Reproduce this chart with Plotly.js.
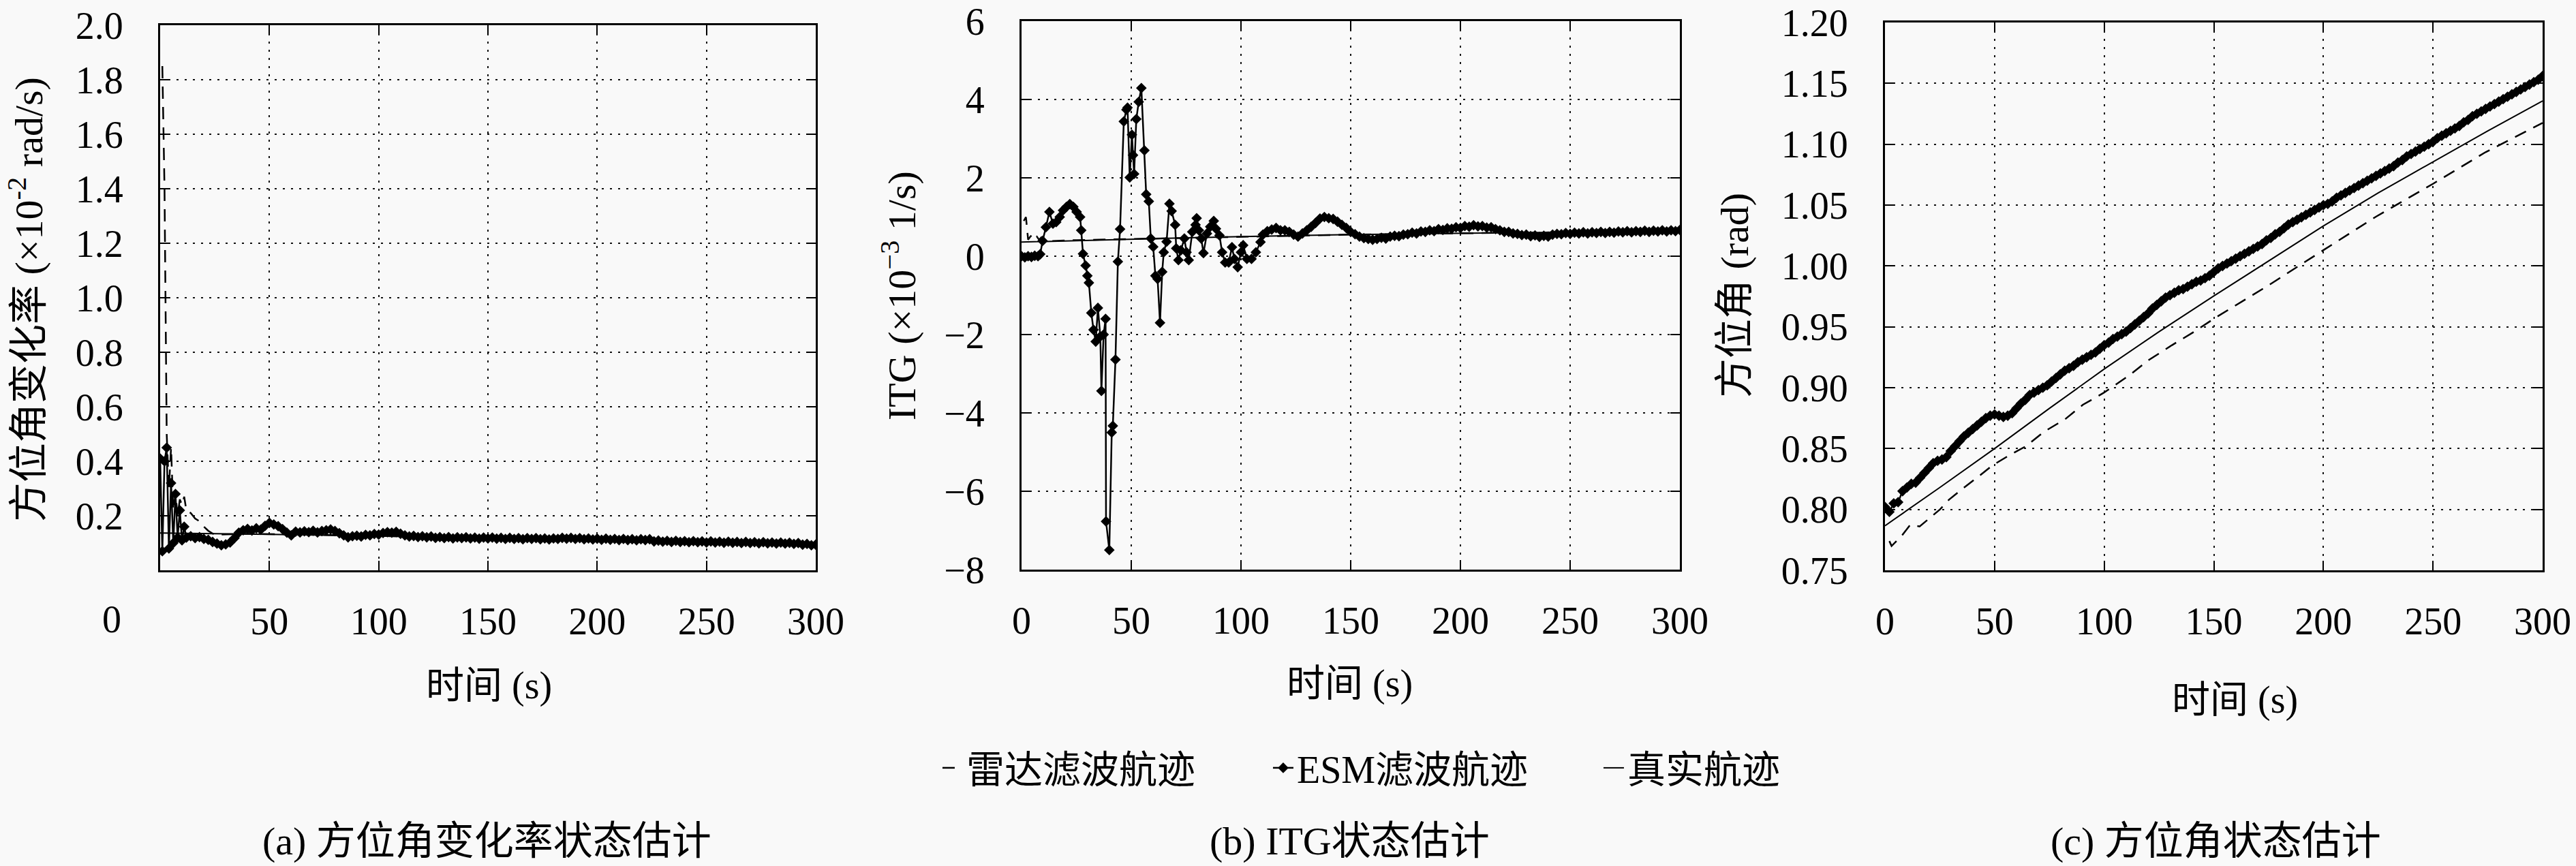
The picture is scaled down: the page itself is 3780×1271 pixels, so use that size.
<!DOCTYPE html>
<html>
<head>
<meta charset="utf-8">
<script src="https://cdn.plot.ly/plotly-3.1.2.min.js"></script>
<style>
  html, body { margin: 0; padding: 0; background: #f9f9f9; }
</style>
</head>
<body>
<div id="chart" style="width:3780px;height:1271px;"></div>
<script>
// ---- (a) bearing-rate estimate (x10^-2 rad/s) ----
const aEsmT = [0, 1, 2, 3, 4, 5, 6, 7, 8, 9, 10, 11, 12,
  14, 16, 18, 20, 22, 24, 26, 28, 30, 32, 34, 36, 38, 40, 42, 44, 46, 48, 50, 52, 54, 56, 58, 60,
  62, 64, 66, 68, 70, 72, 74, 76, 78, 80, 82, 84, 86, 88, 90, 92, 94, 96, 98, 100,
  102, 104, 106, 108, 110, 112, 114, 116, 118, 120, 122, 124, 126, 128, 130, 132, 134, 136, 138, 140,
  142, 144, 146, 148, 150, 152, 154, 156, 158, 160, 162, 164, 166, 168, 170, 172, 174, 176, 178, 180,
  182, 184, 186, 188, 190, 192, 194, 196, 198, 200, 202, 204, 206, 208, 210, 212, 214, 216, 218, 220,
  222, 224, 226, 228, 230, 232, 234, 236, 238, 240, 242, 244, 246, 248, 250, 252, 254, 256, 258, 260,
  262, 264, 266, 268, 270, 272, 274, 276, 278, 280, 282, 284, 286, 288, 290, 292, 294, 296, 298, 300];
const aEsm = [0.41, 0.07, 0.40, 0.45, 0.08, 0.32, 0.10, 0.28, 0.12, 0.22, 0.11, 0.16, 0.12,
  0.125, 0.118, 0.122, 0.115, 0.112, 0.104, 0.098, 0.092, 0.095, 0.102, 0.118, 0.138, 0.147, 0.152, 0.146, 0.154, 0.149, 0.163, 0.174, 0.168, 0.162, 0.151, 0.138, 0.128,
  0.142, 0.139, 0.143, 0.140, 0.145, 0.139, 0.144, 0.147, 0.150, 0.144, 0.136, 0.128, 0.121, 0.125, 0.127, 0.124, 0.130, 0.128, 0.133, 0.131,
  0.137, 0.140, 0.138, 0.141, 0.134, 0.128, 0.124, 0.126, 0.122, 0.125, 0.121, 0.124, 0.119, 0.122, 0.118, 0.122, 0.117, 0.121, 0.118, 0.121,
  0.117, 0.120, 0.116, 0.120, 0.117, 0.120, 0.116, 0.119, 0.115, 0.119, 0.115, 0.118, 0.114, 0.118, 0.115, 0.118, 0.114, 0.117, 0.113, 0.117,
  0.115, 0.119, 0.116, 0.119, 0.115, 0.118, 0.114, 0.117, 0.113, 0.116, 0.112, 0.116, 0.112, 0.115, 0.111, 0.115, 0.111, 0.114, 0.110, 0.114,
  0.111, 0.114, 0.106, 0.109, 0.105, 0.108, 0.104, 0.108, 0.104, 0.107, 0.103, 0.107, 0.103, 0.106, 0.102, 0.106, 0.102, 0.105, 0.101, 0.105,
  0.101, 0.104, 0.100, 0.104, 0.100, 0.103, 0.099, 0.103, 0.099, 0.102, 0.098, 0.102, 0.098, 0.101, 0.097, 0.100, 0.094, 0.097, 0.092, 0.094];
const aRadarT = [1, 2, 3, 4, 5, 6, 7, 8, 9, 10, 11, 12, 14, 16, 18, 20, 22, 25, 30, 40, 60, 80, 100, 150, 200, 250, 300];
const aRadar = [1.85, 1.40, 0.50, 0.30, 0.45, 0.22, 0.28, 0.20, 0.26, 0.24, 0.27, 0.22, 0.21, 0.19, 0.18, 0.16, 0.145, 0.13, 0.132, 0.134, 0.132, 0.129, 0.126, 0.118, 0.111, 0.104, 0.098];
const aTrueT = [0, 25, 50, 75, 100, 125, 150, 175, 200, 225, 250, 275, 300];
const aTrue = [0.137, 0.135, 0.132, 0.129, 0.126, 0.122, 0.118, 0.114, 0.111, 0.107, 0.104, 0.101, 0.098];

// ---- (b) ITG estimate (x10^-3 1/s) ----
const bEsmT = [0, 1.5, 3, 4.5, 6, 7.5, 8.5, 9.6, 11.1, 12.7, 14.3, 15.8, 17.4, 18.9, 20.5, 22, 23.6, 25.1, 26.7, 27.2, 28,
  29.2, 30, 30.7, 31.8, 32.8, 33.8, 34.8, 35.9, 36.4, 37.4, 38.3, 38.5, 40, 41.1, 41.6, 42.8, 43.9, 44.9, 46.6, 47.8,
  48.3, 49.3, 50.3, 50.8, 51.3, 52.3, 53.4, 54.6, 56, 56.8, 58, 58.9, 60, 61, 62, 63.1, 64.1, 64.8, 66.1, 67.4,
  68.4, 70, 70.5, 71.5, 72.6, 74.2, 75.2, 76.2, 77.8, 79.3, 79.8, 80.8, 81.9, 82.9, 84.5, 86, 87.6, 88.6, 90.2, 91.4,
  92.8, 94.4, 95.9, 97, 98.5, 100, 101, 102.7, 104.8, 106.8, 108.9,
  110, 112, 114, 116, 118, 120, 122, 124, 126, 128, 130, 132, 134, 136, 138, 140, 142, 144, 146, 148, 150,
  152, 154, 156, 158, 160, 162, 164, 166, 168, 170, 172, 174, 176, 178, 180, 182, 184, 186, 188, 190,
  192, 194, 196, 198, 200, 202, 204, 206, 208, 210, 212, 214, 216, 218, 220, 222, 224, 226, 228, 230,
  232, 234, 236, 238, 240, 242, 244, 246, 248, 250, 252, 254, 256, 258, 260, 262, 264, 266, 268, 270,
  272, 274, 276, 278, 280, 282, 284, 286, 288, 290, 292, 294, 296, 298, 300];
const bEsm = [0.0, -0.03, 0.0, -0.02, 0.01, 0.0, 0.05, 0.39, 0.74, 1.13, 0.83, 0.87, 1.0, 1.17, 1.26, 1.33, 1.26, 1.13, 1.0, 0.66, 0.06,
  -0.24, -0.5, -0.68, -1.45, -1.88, -2.18, -1.32, -2.05, -3.44, -2.0, -1.6, -6.77, -7.5, -4.5, -4.33, -2.64, -0.14, 0.69, 3.44, 3.74,
  3.79, 2.01, 3.1, 2.58, 2.1, 3.5, 3.94, 4.29, 2.7, 1.58, 1.4, 0.45, 0.24, -0.5, -0.58, -1.7, -0.4, 0.1, 0.37, 1.34,
  1.15, 0.8, 0.2, -0.1, 0.15, 0.45, 0.1, -0.1, 0.62, 0.8, 0.97, 0.66, 0.45, 0.08, 0.58, 0.75, 0.9, 0.7, 0.53, 0.1,
  -0.16, -0.16, 0.23, -0.07, -0.28, 0.1, 0.28, -0.07, -0.07, 0.1, 0.36,
  0.55, 0.64, 0.68, 0.72, 0.66, 0.66, 0.62, 0.55, 0.50, 0.58, 0.66, 0.75, 0.85, 0.96, 1.00, 0.97, 0.95, 0.88, 0.80, 0.72, 0.62,
  0.56, 0.50, 0.46, 0.44, 0.42, 0.44, 0.47, 0.45, 0.50, 0.52, 0.51, 0.55, 0.56, 0.60, 0.58, 0.63, 0.62, 0.66, 0.64, 0.69,
  0.67, 0.71, 0.70, 0.74, 0.72, 0.77, 0.75, 0.79, 0.76, 0.77, 0.73, 0.74, 0.69, 0.66, 0.62, 0.62, 0.58, 0.57, 0.54, 0.55,
  0.51, 0.53, 0.49, 0.52, 0.50, 0.55, 0.57, 0.56, 0.59, 0.57, 0.60, 0.58, 0.61, 0.58, 0.61, 0.59, 0.62, 0.59, 0.62, 0.60,
  0.63, 0.61, 0.64, 0.61, 0.64, 0.62, 0.65, 0.62, 0.65, 0.63, 0.66, 0.63, 0.66, 0.64, 0.67];
const bRadarT = [1, 2, 3, 4, 5, 6, 7, 8, 9, 10, 12, 15, 20, 25, 50, 75, 100, 125, 150, 175, 200, 225, 250, 275, 300];
const bRadar = [0.9, 1.0, 0.42, 0.5, 0.55, 0.45, 0.5, 0.42, 0.48, 0.40, 0.38, 0.39, 0.40, 0.41, 0.44, 0.47, 0.50, 0.53, 0.55, 0.57, 0.59, 0.60, 0.61, 0.63, 0.64];
const bTrueT = [0, 25, 50, 75, 100, 125, 150, 175, 200, 225, 250, 275, 300];
const bTrue = [0.36, 0.40, 0.44, 0.47, 0.50, 0.53, 0.55, 0.57, 0.59, 0.60, 0.61, 0.63, 0.64];

// ---- (c) bearing estimate (rad) ----
const cEsmT = [0, 2, 4, 6, 8, 10, 12, 14, 16, 18, 20, 22, 24, 26, 28, 30, 32, 34, 36, 38, 40,
  42, 44, 46, 48, 50, 52, 54, 56, 58, 60, 62, 64, 66, 68, 70, 72, 74, 76, 78, 80,
  82, 84, 86, 88, 90, 92, 94, 96, 98, 100, 102, 104, 106, 108, 110, 112, 114, 116, 118, 120,
  122, 124, 126, 128, 130, 132, 134, 136, 138, 140, 142, 144, 146, 148, 150, 152, 154, 156, 158, 160,
  162, 164, 166, 168, 170, 172, 174, 176, 178, 180, 182, 184, 186, 188, 190, 192, 194, 196, 198, 200,
  202, 204, 206, 208, 210, 212, 214, 216, 218, 220, 222, 224, 226, 228, 230, 232, 234, 236, 238, 240,
  242, 244, 246, 248, 250, 252, 254, 256, 258, 260, 262, 264, 266, 268, 270, 272, 274, 276, 278, 280,
  282, 284, 286, 288, 290, 292, 294, 296, 298, 300];
const cEsm = [0.802, 0.798, 0.805, 0.806, 0.815, 0.818, 0.821, 0.822, 0.826, 0.830, 0.834, 0.838, 0.840, 0.841, 0.843, 0.848, 0.852, 0.856, 0.860, 0.863, 0.866,
  0.869, 0.872, 0.875, 0.877, 0.878, 0.877, 0.876, 0.877, 0.879, 0.883, 0.887, 0.890, 0.894, 0.896, 0.898, 0.900, 0.902, 0.905, 0.908, 0.911,
  0.914, 0.916, 0.918, 0.921, 0.923, 0.925, 0.927, 0.929, 0.932, 0.935, 0.937, 0.940, 0.942, 0.944, 0.946, 0.949, 0.952, 0.955, 0.958, 0.961,
  0.965, 0.968, 0.971, 0.974, 0.976, 0.978, 0.980, 0.981, 0.983, 0.985, 0.987, 0.988, 0.990, 0.992, 0.995, 0.998, 1.000, 1.002, 1.004, 1.006,
  1.008, 1.010, 1.012, 1.014, 1.016, 1.018, 1.021, 1.023, 1.026, 1.028, 1.031, 1.034, 1.036, 1.038, 1.040, 1.042, 1.044, 1.046, 1.048, 1.050,
  1.051, 1.053, 1.056, 1.058, 1.060, 1.062, 1.064, 1.066, 1.068, 1.070, 1.072, 1.074, 1.076, 1.078, 1.080, 1.082, 1.085, 1.087, 1.090, 1.092,
  1.094, 1.096, 1.098, 1.100, 1.102, 1.105, 1.107, 1.109, 1.111, 1.113, 1.115, 1.118, 1.120, 1.123, 1.125, 1.127, 1.129, 1.131, 1.133, 1.135,
  1.137, 1.139, 1.141, 1.143, 1.145, 1.147, 1.149, 1.151, 1.153, 1.156];
const cRadarT = [2, 3, 7.5, 11.6, 15.8, 22, 25.1, 29.2, 35.4, 43.7, 48.9, 57.2, 64.4, 72.7, 82.1, 90.3, 99.7, 111.1, 120.4, 130.8, 141.1, 150.5, 174, 200, 224, 250, 274, 300];
const cRadar = [0.774, 0.770, 0.778, 0.7875, 0.786, 0.795, 0.800, 0.808, 0.817, 0.8285, 0.836, 0.845, 0.852, 0.864, 0.874, 0.886, 0.8957, 0.9097, 0.9228, 0.9348, 0.946, 0.9572, 0.983, 1.013, 1.0405, 1.0675, 1.0935, 1.1175];
const cTrueT = [0, 25, 50, 75, 100, 125, 150, 175, 200, 225, 250, 275, 300];
const cTrue = [0.7866, 0.818, 0.850, 0.883, 0.9153, 0.946, 0.9753, 1.004, 1.0329, 1.060, 1.0857, 1.111, 1.1356];

// ---- ticks / labels ----
const xTicks = [0, 50, 100, 150, 200, 250, 300];
const xTickTextA = ["", "50", "100", "150", "200", "250", "300"];
const yTicksA = [0.2, 0.4, 0.6, 0.8, 1.0, 1.2, 1.4, 1.6, 1.8, 2.0];
const yTicksB = [-8, -6, -4, -2, 0, 2, 4, 6];
const yTicksC = [0.75, 0.80, 0.85, 0.90, 0.95, 1.00, 1.05, 1.10, 1.15, 1.20];
const seriesNames = ["雷达滤波航迹", "ESM滤波航迹", "真实航迹"];
const captions = ["(a) 方位角变化率状态估计", "(b) ITG状态估计", "(c) 方位角状态估计"];

const FONT = "'Liberation Serif', 'Noto Sans CJK SC', serif";
const W = 3780, H = 1271;
const px = (x) => x / W;
const py = (y) => (H - y) / H;

const makeTraces = (xa, ya, radT, rad, esmT, esm, truT, tru, legend) => [
  {
    x: radT, y: rad, xaxis: xa, yaxis: ya, type: "scatter", mode: "lines",
    name: seriesNames[0], showlegend: legend, legendrank: 1,
    line: { color: "black", width: 2.5, dash: "18px,12px" },
  },
  {
    x: esmT, y: esm, xaxis: xa, yaxis: ya, type: "scatter", mode: "lines+markers",
    name: seriesNames[1], showlegend: legend, legendrank: 2,
    line: { color: "black", width: 2.5 },
    marker: { symbol: "diamond", size: 12, color: "black" },
  },
  {
    x: truT, y: tru, xaxis: xa, yaxis: ya, type: "scatter", mode: "lines",
    name: seriesNames[2], showlegend: legend, legendrank: 3,
    line: { color: "black", width: 2 },
  },
];

const data = [
  ...makeTraces("x", "y", aRadarT, aRadar, aEsmT, aEsm, aTrueT, aTrue, true),
  ...makeTraces("x2", "y2", bRadarT, bRadar, bEsmT, bEsm, bTrueT, bTrue, false),
  ...makeTraces("x3", "y3", cRadarT, cRadar, cEsmT, cEsm, cTrueT, cTrue, false),
];

const axisBase = {
  showline: true, linecolor: "black", linewidth: 3, mirror: "ticks",
  ticks: "inside", ticklen: 14, tickwidth: 2, tickcolor: "black",
  showgrid: true, gridcolor: "#111", gridwidth: 2, griddash: "3px,9px",
  zeroline: false, fixedrange: true,
  tickfont: { family: FONT, size: 56, color: "black" },
};
const xBase = { ...axisBase, range: [0, 300], tickvals: xTicks, ticklabelstandoff: 24 };
const yBase = { ...axisBase, ticklabelstandoff: 40 };

// centred text helper for annotations in paper coordinates
const label = (text, x, y, size, extra) => ({
  text, xref: "paper", yref: "paper", x: px(x), y: py(y),
  xanchor: "center", yanchor: "middle", showarrow: false,
  font: { family: FONT, size, color: "black" }, ...extra,
});

const layout = {
  width: W, height: H,
  margin: { l: 0, r: 0, t: 0, b: 0 },
  paper_bgcolor: "#f9f9f9", plot_bgcolor: "#f9f9f9",
  font: { family: FONT, size: 56, color: "black" },
  showlegend: true,
  legend: {
    orientation: "h", x: 0.557, xanchor: "center", y: py(1127), yanchor: "middle",
    bgcolor: "rgba(0,0,0,0)", font: { family: FONT, size: 56, color: "black" },
    entrywidth: 440, entrywidthmode: "pixels",
  },
  xaxis: { ...xBase, domain: [px(235), px(1197)], anchor: "y", ticktext: xTickTextA },
  yaxis: { ...yBase, domain: [py(837), py(37)], anchor: "x", range: [0, 2], tickvals: yTicksA, tickformat: ".1f" },
  xaxis2: { ...xBase, domain: [px(1499), px(2465)], anchor: "y2" },
  yaxis2: { ...yBase, domain: [py(836), py(31)], anchor: "x2", range: [-8, 6], tickvals: yTicksB },
  xaxis3: { ...xBase, domain: [px(2766), px(3731)], anchor: "y3" },
  yaxis3: { ...yBase, domain: [py(837), py(33)], anchor: "x3", range: [0.75, 1.2], tickvals: yTicksC, tickformat: ".2f" },
  annotations: [
    // the "0" tick label of panel (a) sits left of the axis in the original
    label("0", 164, 909, 56),
    // y titles
    label("方位角变化率 (×10<sup>-2</sup> rad/s)", 38, 440, 58, { textangle: -90 }),
    label("ITG (×10<sup>−3</sup> 1/s)", 1320, 434, 58, { textangle: -90 }),
    label("方位角 (rad)", 2546, 434, 58, { textangle: -90 }),
    // x titles
    label("时间 (s)", 717, 1007, 56),
    label("时间 (s)", 1980, 1003, 56),
    label("时间 (s)", 3279, 1027, 56),
    // captions
    label(captions[0], 714, 1234, 58),
    label(captions[1], 1981, 1234, 58),
    label(captions[2], 3251, 1234, 58),
  ],
};

Plotly.newPlot("chart", data, layout, { staticPlot: true, displayModeBar: false });
</script>
</body>
</html>
